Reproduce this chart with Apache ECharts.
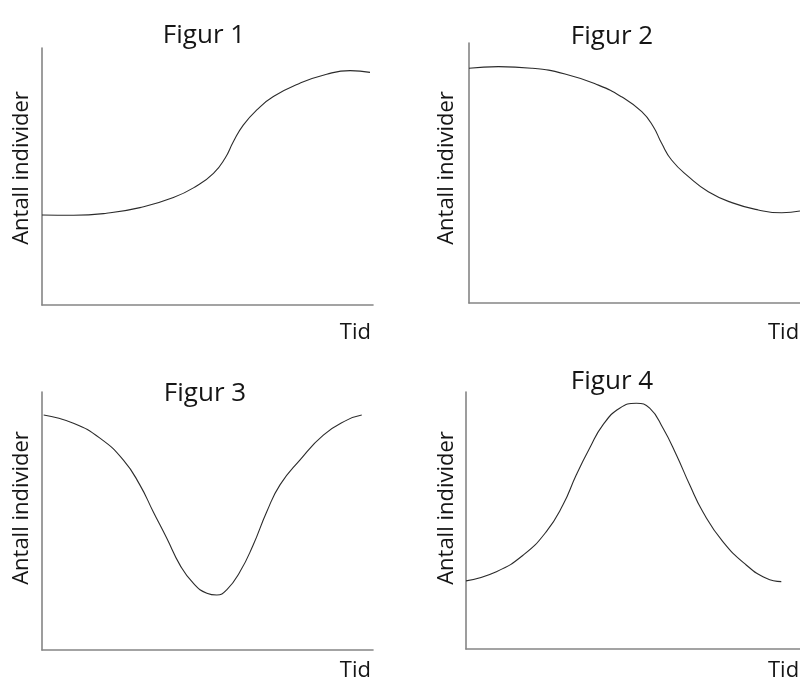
<!DOCTYPE html>
<html>
<head>
<meta charset="utf-8">
<script src="https://cdn.jsdelivr.net/npm/echarts@6/dist/echarts.min.js"></script>
<style>
  html, body { margin: 0; padding: 0; background: #fff; }
  #chart { width: 800px; height: 684px; }
</style>
</head>
<body>
<div id="chart"></div>
<script>
// Time (0-100) and population (0-100) for each of the four curves
const fig1Time = [0, 9.5, 19.5, 29.6, 39.7, 46.7, 51.8, 55.3, 57.8, 60.8, 64.9, 69.9, 77.9, 86.0, 93.1, 99.1];
const fig1Count = [35.0, 34.9, 35.7, 37.9, 41.8, 46.3, 51.2, 57.1, 63.5, 70.0, 75.9, 81.1, 86.3, 89.8, 91.2, 90.5];

const fig2Time = [0, 8.9, 18.9, 29.0, 39.1, 46.1, 52.2, 55.7, 58.2, 61.2, 66.3, 72.3, 79.4, 87.4, 94.5, 100];
const fig2Count = [90.3, 90.9, 90.3, 88.1, 83.8, 79.3, 73.6, 67.8, 61.4, 55.0, 48.6, 42.8, 38.6, 35.8, 34.7, 35.4];

const fig3Time = [0.5, 9.5, 17.5, 24.6, 29.6, 33.6, 37.7, 41.7, 45.7, 49.8, 52.8, 55.8, 59.8, 63.8, 67.9, 71.9, 77.9, 85.0, 92.1, 96.6];
const fig3Count = [91.1, 87.9, 82.1, 73.6, 63.9, 53.6, 43.3, 32.9, 25.9, 22.0, 21.3, 23.3, 30.3, 40.7, 53.6, 64.0, 73.6, 83.3, 89.1, 91.1];

const fig4Time = [0, 9.1, 17.2, 24.0, 29.0, 33.0, 37.0, 41.0, 46.0, 51.0, 55.0, 59.0, 63.0, 67.0, 70.9, 76.9, 83.9, 89.9, 94.4];
const fig4Count = [26.5, 30.1, 36.6, 45.6, 56.0, 67.7, 78.1, 87.2, 93.7, 95.6, 93.7, 85.9, 75.5, 63.8, 53.4, 41.8, 32.7, 27.5, 26.2];

const titles = ['Figur 1', 'Figur 2', 'Figur 3', 'Figur 4'];
const yName = 'Antall individer';
const xName = 'Tid';

const panels = [
  { t: fig1Time, c: fig1Count, grid: { left: 42, top: 48, width: 331, height: 257 },
    title: [204, 36], yLab: [22, 168], xLab: [371, 333, 'right'] },
  { t: fig2Time, c: fig2Count, grid: { left: 469, top: 43, width: 331, height: 260 },
    title: [612, 37], yLab: [447, 168], xLab: [768, 333, 'left'] },
  { t: fig3Time, c: fig3Count, grid: { left: 42, top: 392, width: 331, height: 258 },
    title: [205, 394], yLab: [22, 508], xLab: [371, 671, 'right'] },
  { t: fig4Time, c: fig4Count, grid: { left: 466, top: 392, width: 334, height: 257 },
    title: [612, 382], yLab: [447, 508], xLab: [768, 671, 'left'] }
];

const FONT = '"Open Sans", "Noto Sans", sans-serif';
const axisLine = { show: true, onZero: false, lineStyle: { color: '#858585', width: 1.6 } };

const option = {
  backgroundColor: '#ffffff',
  animation: false,
  grid: panels.map(p => Object.assign({ containLabel: false }, p.grid)),
  xAxis: panels.map((p, i) => ({
    type: 'value', gridIndex: i, min: 0, max: 100,
    axisLine: axisLine, axisTick: { show: false }, axisLabel: { show: false },
    splitLine: { show: false }
  })),
  yAxis: panels.map((p, i) => ({
    type: 'value', gridIndex: i, min: 0, max: 100,
    axisLine: axisLine, axisTick: { show: false }, axisLabel: { show: false },
    splitLine: { show: false }
  })),
  series: panels.map((p, i) => ({
    type: 'line', xAxisIndex: i, yAxisIndex: i,
    data: p.t.map((x, k) => [x, p.c[k]]),
    smooth: true, showSymbol: false, silent: true,
    lineStyle: { color: '#2b2b2b', width: 1.1 }
  })),
  graphic: panels.flatMap((p, i) => [
    { type: 'text', x: p.title[0], y: p.title[1],
      style: { text: titles[i], font: '26px ' + FONT, fill: '#151515',
               textAlign: 'center', textVerticalAlign: 'middle' } },
    { type: 'text', x: p.yLab[0], y: p.yLab[1], rotation: Math.PI / 2,
      style: { text: yName, font: '22px ' + FONT, fill: '#151515',
               textAlign: 'center', textVerticalAlign: 'middle' } },
    { type: 'text', x: p.xLab[0], y: p.xLab[1],
      style: { text: xName, font: '22px ' + FONT, fill: '#151515',
               textAlign: p.xLab[2], textVerticalAlign: 'middle' } }
  ])
};

const chart = echarts.init(document.getElementById('chart'), null, { renderer: 'canvas' });
chart.setOption(option);
</script>
</body>
</html>
